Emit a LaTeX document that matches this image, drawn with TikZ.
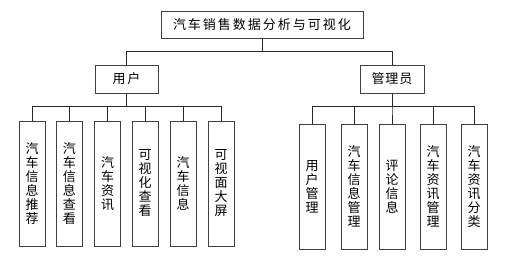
\documentclass[tikz,border=0pt]{standalone}
\usepackage{fontspec}
\newfontfamily\cjk{Noto Sans CJK SC}
\newcommand\gp[1]{\hspace{#1pt}}
\begin{document}
\begin{tikzpicture}[x=1pt,y=-1pt,
  box/.style={draw=black!75,line width=1pt,fill=white,inner sep=0pt,
    font=\cjk\fontsize{13}{14}\selectfont},
  leaf/.style={box,minimum width=26pt,minimum height=125pt,align=center},
  conn/.style={draw=black!85,line width=0.8pt}]
\fill[white] (0,0) rectangle (515,255);
\node[box,minimum width=202pt,minimum height=27pt] (top) at (262,24.5)
  {汽\gp2车\gp2销\gp2售\gp2数\gp2据\gp2分\gp2析\gp2与\gp2可\gp2视\gp2化};
\node[box,minimum width=63pt,minimum height=28pt] (user) at (126.5,79) {用\gp2户};
\node[box,minimum width=64pt,minimum height=28pt] (mgr) at (392,79) {管\gp1理\gp1员};
\node[leaf] (u1) at (32,183.5) {汽\\车\\信\\息\\推\\荐};
\node[leaf] (u2) at (69.5,183.5) {汽\\车\\信\\息\\查\\看};
\node[leaf] (u3) at (107.5,183.5) {汽\\车\\资\\讯};
\node[leaf] (u4) at (145,183.5) {可\\视\\化\\查\\看};
\node[leaf] (u5) at (183,183.5) {汽\\车\\信\\息};
\node[leaf] (u6) at (221,183.5) {可\\视\\面\\大\\屏};
\node[leaf] (m1) at (312,186.5) {用\\户\\管\\理};
\node[leaf] (m2) at (354,186.5) {汽\\车\\信\\息\\管\\理};
\node[leaf] (m3) at (392,186.5) {评\\论\\信\\息};
\node[leaf] (m4) at (433,186.5) {汽\\车\\资\\讯\\管\\理};
\node[leaf] (m5) at (474,186.5) {汽\\车\\资\\讯\\分\\类};
\foreach \c in {user,mgr} \draw[conn] (top.south) -- ++(0,13) -| (\c.north);
\foreach \c in {u1,u2,u3,u4,u5,u6} \draw[conn] (user.south) -- ++(0,13) -| (\c.north);
\foreach \c in {m1,m2,m3,m4,m5} \draw[conn] (mgr.south) -- ++(0,13) -| (\c.north);
\end{tikzpicture}
\end{document}
